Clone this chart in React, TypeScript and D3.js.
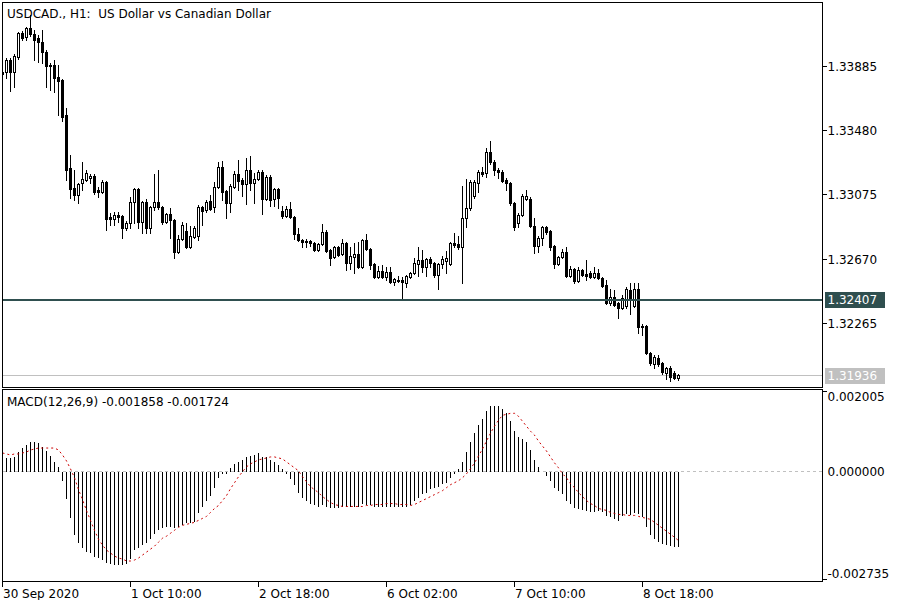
import React from "react";
import * as d3 from "d3";

// ---------- DATA ----------
const openP = [
  1.33833, 1.33845, 1.33921, 1.33845, 1.33940, 1.34091, 1.34066, 1.34123, 1.34085, 1.34060,
  1.34034, 1.33971, 1.33890, 1.33890, 1.33814, 1.33795, 1.33575, 1.33241, 1.33115, 1.33071,
  1.33146, 1.33165, 1.33178, 1.33190, 1.33102, 1.33089, 1.33152, 1.32932, 1.32919, 1.32945,
  1.32938, 1.32863, 1.32894, 1.33026, 1.33108, 1.32900, 1.33026, 1.32863, 1.32995, 1.33026,
  1.32995, 1.32900, 1.32951, 1.32913, 1.32711, 1.32793, 1.32844, 1.32743, 1.32806, 1.32812,
  1.32995, 1.32976, 1.33033, 1.32995, 1.33121, 1.33247, 1.33096, 1.33020, 1.33121, 1.33203,
  1.33165, 1.33140, 1.33228, 1.33146, 1.33171, 1.33215, 1.33045, 1.33184, 1.33045, 1.33108,
  1.32970, 1.32938, 1.32982, 1.32932, 1.32825, 1.32787, 1.32781, 1.32781, 1.32768, 1.32724,
  1.32762, 1.32837, 1.32724, 1.32680, 1.32743, 1.32699, 1.32768, 1.32642, 1.32680, 1.32699,
  1.32617, 1.32787, 1.32730, 1.32636, 1.32554, 1.32592, 1.32554, 1.32585, 1.32522, 1.32535,
  1.32535, 1.32516, 1.32554, 1.32579, 1.32636, 1.32661, 1.32617, 1.32667, 1.32642, 1.32567,
  1.32636, 1.32655, 1.32636, 1.32768, 1.32762, 1.32743, 1.32926, 1.32989, 1.33064, 1.33146,
  1.33215, 1.33209, 1.33341, 1.33278, 1.33228, 1.33215, 1.33165, 1.33146, 1.33020, 1.32894,
  1.32945, 1.33045, 1.33045, 1.32875, 1.32749, 1.32800, 1.32869, 1.32844, 1.32749, 1.32636,
  1.32680, 1.32711, 1.32560, 1.32604, 1.32529, 1.32598, 1.32573, 1.32579, 1.32554, 1.32579,
  1.32548, 1.32504, 1.32390, 1.32428, 1.32390, 1.32359, 1.32371, 1.32472, 1.32371, 1.32478,
  1.32245, 1.32245, 1.32075, 1.32006, 1.32044, 1.32012, 1.31949, 1.31981, 1.31949, 1.31918,
];
const highP = [
  1.33858, 1.33934, 1.33934, 1.33959, 1.34097, 1.34104, 1.34129, 1.34205, 1.34110, 1.34079,
  1.34110, 1.33984, 1.33902, 1.33921, 1.33890, 1.33801, 1.33619, 1.33323, 1.33228, 1.33146,
  1.33278, 1.33228, 1.33203, 1.33203, 1.33121, 1.33165, 1.33159, 1.32957, 1.32963, 1.32963,
  1.32945, 1.32907, 1.33058, 1.33115, 1.33115, 1.33033, 1.33045, 1.33001, 1.33203, 1.33228,
  1.33001, 1.32957, 1.32989, 1.32919, 1.32819, 1.32900, 1.32894, 1.32875, 1.32875, 1.33007,
  1.33001, 1.33039, 1.33071, 1.33152, 1.33278, 1.33285, 1.33102, 1.33140, 1.33222, 1.33291,
  1.33178, 1.33304, 1.33316, 1.33209, 1.33228, 1.33228, 1.33197, 1.33197, 1.33115, 1.33115,
  1.33001, 1.33001, 1.33026, 1.32938, 1.32863, 1.32793, 1.32793, 1.32787, 1.32774, 1.32768,
  1.32888, 1.32850, 1.32730, 1.32749, 1.32749, 1.32793, 1.32774, 1.32743, 1.32768, 1.32774,
  1.32793, 1.32825, 1.32737, 1.32642, 1.32623, 1.32630, 1.32617, 1.32617, 1.32548, 1.32560,
  1.32554, 1.32567, 1.32585, 1.32674, 1.32743, 1.32724, 1.32674, 1.32680, 1.32648, 1.32642,
  1.32686, 1.32718, 1.32774, 1.32831, 1.32812, 1.33127, 1.33171, 1.33165, 1.33165, 1.33228,
  1.33247, 1.33367, 1.33411, 1.33291, 1.33241, 1.33228, 1.33178, 1.33152, 1.33026, 1.32957,
  1.33077, 1.33102, 1.33058, 1.32926, 1.32812, 1.32875, 1.32875, 1.32850, 1.32756, 1.32686,
  1.32730, 1.32743, 1.32623, 1.32611, 1.32617, 1.32604, 1.32661, 1.32592, 1.32617, 1.32604,
  1.32554, 1.32535, 1.32478, 1.32472, 1.32396, 1.32440, 1.32491, 1.32516, 1.32516, 1.32516,
  1.32258, 1.32251, 1.32081, 1.32062, 1.32062, 1.32018, 1.31987, 1.31993, 1.31962, 1.31945,
];
const lowP = [
  1.33808, 1.33808, 1.33726, 1.33751, 1.33927, 1.34047, 1.34047, 1.34072, 1.33921, 1.33908,
  1.33902, 1.33751, 1.33732, 1.33719, 1.33575, 1.33537, 1.33165, 1.33052, 1.33039, 1.33020,
  1.33102, 1.33159, 1.33146, 1.33077, 1.33058, 1.33083, 1.32850, 1.32882, 1.32882, 1.32900,
  1.32800, 1.32850, 1.32863, 1.32894, 1.32863, 1.32831, 1.32831, 1.32831, 1.32976, 1.32982,
  1.32888, 1.32894, 1.32800, 1.32674, 1.32705, 1.32787, 1.32737, 1.32737, 1.32800, 1.32787,
  1.32882, 1.32963, 1.32976, 1.32963, 1.33115, 1.33039, 1.32926, 1.32963, 1.33115, 1.33102,
  1.33064, 1.33014, 1.33102, 1.33020, 1.33165, 1.32951, 1.33039, 1.33001, 1.33001, 1.32989,
  1.32926, 1.32932, 1.32926, 1.32793, 1.32781, 1.32743, 1.32743, 1.32749, 1.32718, 1.32718,
  1.32756, 1.32711, 1.32630, 1.32674, 1.32686, 1.32693, 1.32598, 1.32604, 1.32579, 1.32611,
  1.32611, 1.32724, 1.32604, 1.32548, 1.32548, 1.32548, 1.32535, 1.32516, 1.32504, 1.32522,
  1.32422, 1.32491, 1.32548, 1.32573, 1.32560, 1.32585, 1.32560, 1.32617, 1.32554, 1.32478,
  1.32611, 1.32579, 1.32630, 1.32743, 1.32730, 1.32516, 1.32869, 1.32976, 1.33052, 1.33089,
  1.33190, 1.33184, 1.33266, 1.33197, 1.33178, 1.33152, 1.33102, 1.33007, 1.32850, 1.32869,
  1.32938, 1.33039, 1.32869, 1.32705, 1.32711, 1.32756, 1.32825, 1.32724, 1.32611, 1.32630,
  1.32674, 1.32554, 1.32554, 1.32516, 1.32522, 1.32560, 1.32535, 1.32548, 1.32548, 1.32541,
  1.32491, 1.32384, 1.32377, 1.32371, 1.32296, 1.32352, 1.32359, 1.32321, 1.32365, 1.32201,
  1.32188, 1.32069, 1.31999, 1.31981, 1.31993, 1.31943, 1.31911, 1.31899, 1.31911, 1.31905,
];
const closeP = [
  1.33845, 1.33921, 1.33845, 1.33946, 1.34091, 1.34060, 1.34123, 1.34085, 1.34047, 1.34034,
  1.33971, 1.33883, 1.33883, 1.33808, 1.33789, 1.33562, 1.33228, 1.33108, 1.33071, 1.33140,
  1.33171, 1.33209, 1.33190, 1.33089, 1.33089, 1.33152, 1.32919, 1.32919, 1.32945, 1.32932,
  1.32863, 1.32894, 1.33026, 1.33108, 1.32900, 1.33026, 1.32863, 1.32995, 1.33026, 1.32995,
  1.32900, 1.32951, 1.32913, 1.32711, 1.32793, 1.32882, 1.32743, 1.32812, 1.32863, 1.32995,
  1.32970, 1.33026, 1.32982, 1.33121, 1.33247, 1.33089, 1.33020, 1.33127, 1.33203, 1.33159,
  1.33140, 1.33228, 1.33146, 1.33171, 1.33215, 1.33045, 1.33184, 1.33039, 1.33108, 1.33052,
  1.32938, 1.32982, 1.32932, 1.32825, 1.32787, 1.32774, 1.32774, 1.32768, 1.32724, 1.32762,
  1.32837, 1.32718, 1.32674, 1.32743, 1.32693, 1.32768, 1.32642, 1.32686, 1.32699, 1.32617,
  1.32787, 1.32730, 1.32630, 1.32554, 1.32592, 1.32554, 1.32585, 1.32522, 1.32541, 1.32529,
  1.32522, 1.32560, 1.32579, 1.32642, 1.32661, 1.32617, 1.32667, 1.32642, 1.32567, 1.32636,
  1.32667, 1.32674, 1.32768, 1.32756, 1.32743, 1.32926, 1.32989, 1.33152, 1.33152, 1.33215,
  1.33203, 1.33341, 1.33278, 1.33228, 1.33215, 1.33159, 1.33146, 1.33020, 1.32869, 1.32945,
  1.33064, 1.33064, 1.32875, 1.32749, 1.32800, 1.32869, 1.32837, 1.32743, 1.32636, 1.32680,
  1.32711, 1.32560, 1.32604, 1.32529, 1.32598, 1.32567, 1.32560, 1.32554, 1.32579, 1.32548,
  1.32497, 1.32390, 1.32428, 1.32377, 1.32359, 1.32422, 1.32478, 1.32422, 1.32478, 1.32239,
  1.32239, 1.32075, 1.32012, 1.32050, 1.32006, 1.31955, 1.31981, 1.31924, 1.31918, 1.31936,
];

const macdMain = [
  0.000316, 0.000316, 0.000316, 0.000340, 0.000462, 0.000560, 0.000634, 0.000707, 0.000707, 0.000683,
  0.000585, 0.000487, 0.000365, 0.000218, 0.000095, -0.000223, -0.000663, -0.001153, -0.001569, -0.001764,
  -0.001887, -0.001985, -0.002009, -0.002107, -0.002131, -0.002180, -0.002254, -0.002278, -0.002303, -0.002303,
  -0.002303, -0.002278, -0.002156, -0.001936, -0.001887, -0.001813, -0.001764, -0.001666, -0.001544, -0.001446,
  -0.001397, -0.001373, -0.001373, -0.001397, -0.001373, -0.001324, -0.001275, -0.001275, -0.001250, -0.001030,
  -0.000859, -0.000712, -0.000590, -0.000394, -0.000149, -0.000051, -0.000051, 0.000071, 0.000169, 0.000218,
  0.000267, 0.000340, 0.000365, 0.000389, 0.000438, 0.000340, 0.000340, 0.000267, 0.000218, 0.000144,
  0.000046, -0.000051, -0.000174, -0.000321, -0.000516, -0.000639, -0.000712, -0.000785, -0.000834, -0.000859,
  -0.000834, -0.000883, -0.000908, -0.000908, -0.000908, -0.000883, -0.000883, -0.000883, -0.000883, -0.000883,
  -0.000785, -0.000810, -0.000834, -0.000859, -0.000859, -0.000883, -0.000859, -0.000859, -0.000883, -0.000883,
  -0.000883, -0.000883, -0.000810, -0.000712, -0.000639, -0.000541, -0.000516, -0.000418, -0.000394, -0.000369,
  -0.000296, -0.000272, -0.000149, -0.000051, 0.000046, 0.000218, 0.000462, 0.000707, 0.000927, 0.001123,
  0.001270, 0.001466, 0.001588, 0.001588, 0.001588, 0.001515, 0.001417, 0.001221, 0.000976, 0.000830,
  0.000781, 0.000707, 0.000511, 0.000267, 0.000095, -0.000002, -0.000100, -0.000223, -0.000394, -0.000467,
  -0.000541, -0.000712, -0.000785, -0.000908, -0.000932, -0.000957, -0.000981, -0.001006, -0.001006, -0.000981,
  -0.001006, -0.001104, -0.001128, -0.001177, -0.001226, -0.001104, -0.001055, -0.001079, -0.001030, -0.001055,
  -0.001128, -0.001373, -0.001569, -0.001666, -0.001740, -0.001789, -0.001813, -0.001838, -0.001850, -0.001858,
];
const macdSignal = [
  0.000438, 0.000414, 0.000389, 0.000414, 0.000414, 0.000438, 0.000462, 0.000511, 0.000536, 0.000560,
  0.000560, 0.000560, 0.000560, 0.000560, 0.000511, 0.000389, 0.000242, 0.000046, -0.000174, -0.000467,
  -0.000712, -0.000981, -0.001226, -0.001471, -0.001691, -0.001838, -0.001960, -0.002033, -0.002107, -0.002156,
  -0.002180, -0.002229, -0.002229, -0.002205, -0.002156, -0.002082, -0.002009, -0.001936, -0.001862, -0.001764,
  -0.001666, -0.001617, -0.001544, -0.001471, -0.001397, -0.001348, -0.001324, -0.001299, -0.001275, -0.001226,
  -0.001177, -0.001128, -0.001030, -0.000932, -0.000859, -0.000737, -0.000614, -0.000443, -0.000296, -0.000149,
  -0.000027, 0.000095, 0.000169, 0.000218, 0.000267, 0.000291, 0.000316, 0.000340, 0.000340, 0.000316,
  0.000291, 0.000218, 0.000144, 0.000071, -0.000002, -0.000149, -0.000272, -0.000394, -0.000467, -0.000541,
  -0.000639, -0.000712, -0.000785, -0.000834, -0.000859, -0.000883, -0.000883, -0.000883, -0.000883, -0.000883,
  -0.000883, -0.000859, -0.000859, -0.000834, -0.000834, -0.000834, -0.000810, -0.000810, -0.000810, -0.000834,
  -0.000834, -0.000834, -0.000859, -0.000834, -0.000785, -0.000737, -0.000688, -0.000639, -0.000590, -0.000541,
  -0.000492, -0.000418, -0.000345, -0.000296, -0.000247, -0.000174, -0.000076, 0.000046, 0.000193, 0.000365,
  0.000536, 0.000732, 0.000927, 0.001099, 0.001246, 0.001368, 0.001392, 0.001417, 0.001417, 0.001343,
  0.001221, 0.001099, 0.000976, 0.000878, 0.000732, 0.000609, 0.000487, 0.000340, 0.000193, 0.000071,
  -0.000076, -0.000174, -0.000321, -0.000418, -0.000541, -0.000639, -0.000737, -0.000810, -0.000859, -0.000932,
  -0.000957, -0.000981, -0.001030, -0.001055, -0.001079, -0.001079, -0.001104, -0.001104, -0.001104, -0.001128,
  -0.001153, -0.001177, -0.001201, -0.001275, -0.001348, -0.001422, -0.001495, -0.001569, -0.001642, -0.001724,
];

const priceTicks = [1.33885, 1.3348, 1.33075, 1.3267, 1.32265];
const priceTickLabels = ["1.33885", "1.33480", "1.33075", "1.32670", "1.32265"];
const macdTicks = [0.002005, 0.0, -0.002735];
const macdTickLabels = ["0.002005", "0.000000", "-0.002735"];
const timeTickIndex = [0, 32, 64, 96, 128, 160];
const timeTickLabels = ["30 Sep 2020", "1 Oct 10:00", "2 Oct 18:00", "6 Oct 02:00", "7 Oct 10:00", "8 Oct 18:00"];
const hLinePrice = 1.32407;
const bidPrice = 1.31936;
const titleText = "USDCAD., H1:  US Dollar vs Canadian Dollar";
const macdTitle = "MACD(12,26,9) -0.001858 -0.001724";

// ---------- LAYOUT ----------
const W = 900;
const H = 600;
const L = 2.5;
const R = 822.5;
const T = 2.5;
const MAIN_B = 387.5;
const MACD_T = 389.5;
const MACD_B = 581.5;
const FONT = "'DejaVu Sans', Verdana, sans-serif";

export default function App() {
  const n = closeP.length;
  const x = d3.scaleLinear().domain([0, n - 1]).range([2, 2 + 4 * (n - 1)]);
  const y = d3.scaleLinear().domain([1.34299, 1.30519]).range([0, 600]);
  const ym = d3.scaleLinear().domain([-0.002735, 0.002005]).range([MACD_B, MACD_T]);

  const candles = d3.range(n).map((i) => {
    const cx = Math.round(x(i));
    const o = openP[i], c = closeP[i];
    const bull = c >= o;
    const top = Math.round(y(Math.max(o, c)));
    const bot = Math.round(y(Math.min(o, c)));
    const hi = Math.round(y(highP[i]));
    const lo = Math.round(y(lowP[i]));
    return (
      <g key={i}>
        <line x1={cx + 0.5} x2={cx + 0.5} y1={hi} y2={lo + 1} stroke="#000" strokeWidth={1} />
        {bull ? (
          <rect x={cx - 0.5} y={top + 0.5} width={2} height={Math.max(0, bot - top)} fill="#fff" stroke="#000" strokeWidth={1} />
        ) : (
          <rect x={cx - 1} y={top} width={3} height={Math.max(1, bot - top + 1)} fill="#000" />
        )}
      </g>
    );
  });

  const zeroY = Math.round(ym(0)) + 0.5;
  const hist = d3.range(n).map((i) => {
    const cx = Math.round(x(i)) + 0.5;
    const v = Math.round(ym(macdMain[i]));
    return <line key={i} x1={cx} x2={cx} y1={zeroY} y2={v + (macdMain[i] < 0 ? 1 : 0)} stroke="#000" strokeWidth={1} />;
  });

  const sigLine = d3
    .line<number>()
    .x((_, i) => Math.round(x(i)) + 0.5)
    .y((d) => ym(d))(macdSignal) as string;

  const hY = Math.round(y(hLinePrice)) - 0.5;
  const bY = Math.round(y(bidPrice)) + 0.5;

  return (
    <div style={{ position: "absolute", left: 0, top: 0 }}>
      <svg width={W} height={H} style={{ display: "block", background: "#fff" }} fontFamily={FONT}>
        <defs>
          <clipPath id="mainClip">
            <rect x={L + 0.5} y={T + 0.5} width={R - L - 1} height={MAIN_B - T - 1} />
          </clipPath>
          <clipPath id="macdClip">
            <rect x={L + 0.5} y={MACD_T + 0.5} width={R - L - 1} height={MACD_B - MACD_T - 1} />
          </clipPath>
        </defs>
        <rect x={0} y={0} width={W} height={H} fill="#fff" />

        {/* main panel */}
        <g clipPath="url(#mainClip)" shapeRendering="crispEdges">
          <line x1={L} x2={R} y1={bY} y2={bY} stroke="#c0c0c0" strokeWidth={1} />
          {candles}
          <line x1={L} x2={R} y1={hY} y2={hY} stroke="#2f4f4f" strokeWidth={2} />
        </g>
        <text x={7} y={14} dominantBaseline="central" fontSize={12} fill="#000" style={{ whiteSpace: "pre" }}>{titleText}</text>

        {/* price axis */}
        <g shapeRendering="crispEdges">
          {priceTicks.map((t, i) => {
            const ty = Math.round(y(t)) + 0.5;
            return (
              <g key={i}>
                <line x1={R} x2={R + 4} y1={ty} y2={ty} stroke="#000" />
                <text x={827.5} y={ty} dominantBaseline="central" fontSize={12} fill="#000">{priceTickLabels[i]}</text>
              </g>
            );
          })}
          <rect x={825} y={hY - 8} width={60} height={16} fill="#2f4f4f" />
          <text x={827.5} y={hY} dominantBaseline="central" fontSize={12} fill="#fff">{hLinePrice.toFixed(5)}</text>
          <rect x={825} y={bY - 8} width={60} height={16} fill="#c0c0c0" />
          <text x={827.5} y={bY} dominantBaseline="central" fontSize={12} fill="#fff">{bidPrice.toFixed(5)}</text>
        </g>

        {/* macd panel */}
        <g clipPath="url(#macdClip)">
          <line x1={L} x2={R} y1={zeroY} y2={zeroY} stroke="#c0c0c0" strokeDasharray="3,3" shapeRendering="crispEdges" />
          <g shapeRendering="crispEdges">{hist}</g>
          <path d={sigLine} fill="none" stroke="#cc0000" strokeWidth={1} strokeDasharray="2,3" />
        </g>
        <text x={7} y={402} dominantBaseline="central" fontSize={12} fill="#000">{macdTitle}</text>
        <g shapeRendering="crispEdges">
          {macdTicks.map((t, i) => {
            const ty = i === 0 ? 397 : i === 2 ? 574 : Math.round(ym(t)) + 0.5;
            return (
              <text key={i} x={827.5} y={ty} dominantBaseline="central" fontSize={12} fill="#000">{macdTickLabels[i]}</text>
            );
          })}
          <line x1={R} x2={R + 4} y1={391.5} y2={391.5} stroke="#000" />
          <line x1={R} x2={R + 4} y1={579.5} y2={579.5} stroke="#000" />
        </g>

        {/* frames */}
        <g fill="none" stroke="#000" strokeWidth={1} shapeRendering="crispEdges">
          <rect x={L} y={T} width={R - L} height={MAIN_B - T} />
          <rect x={L} y={MACD_T} width={R - L} height={MACD_B - MACD_T} />
        </g>

        {/* time axis */}
        <g shapeRendering="crispEdges">
          {timeTickIndex.map((ti, i) => {
            const tx = Math.round(x(ti)) + 0.5;
            return (
              <g key={i}>
                <line x1={tx} x2={tx} y1={MACD_B} y2={MACD_B + 5} stroke="#000" />
                <text x={tx + 0.5} y={594} dominantBaseline="central" fontSize={12} fill="#000">{timeTickLabels[i]}</text>
              </g>
            );
          })}
        </g>
      </svg>
    </div>
  );
}
